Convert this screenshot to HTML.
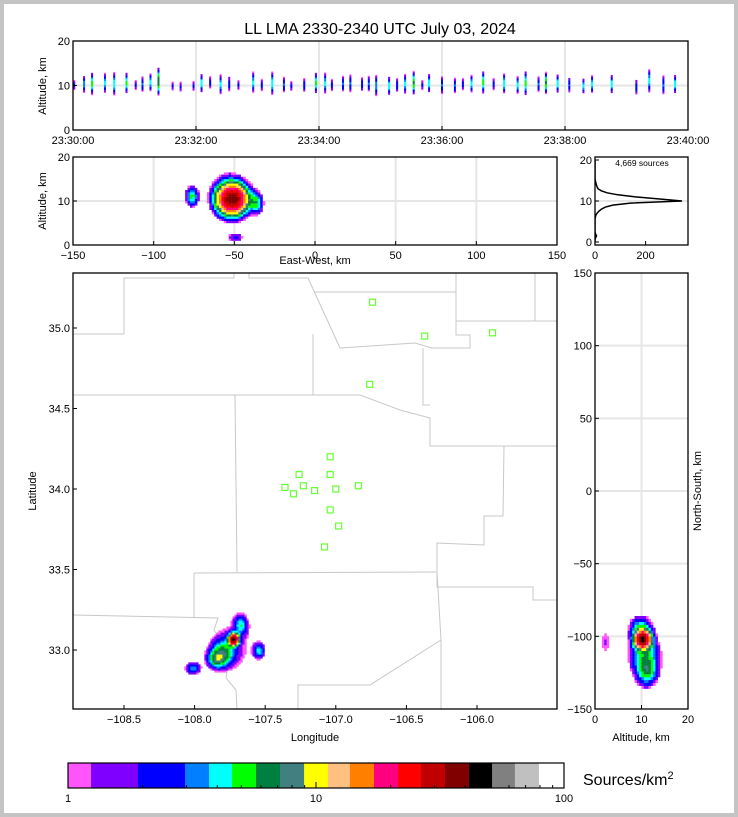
<!DOCTYPE html>
<html><head><meta charset="utf-8"><style>
html,body{margin:0;padding:0;background:#fff}
svg{display:block;font-family:"Liberation Sans",sans-serif}
</style></head><body>
<svg id="fig" width="738" height="817" viewBox="0 0 738 817" xmlns="http://www.w3.org/2000/svg">
<rect x="0" y="0" width="738" height="817" fill="#c4c4c4"/>
<rect x="4" y="4" width="730" height="809" fill="#fff"/>
<text x="380" y="34" font-size="16" text-anchor="middle">LL LMA 2330-2340 UTC July 03, 2024</text>
<g id="layer"></g>
</svg>
<script>
// ---------- data ----------
const cbEdges = [0,0.093,0.282,0.472,0.569,0.661,0.758,0.855,0.952,1.048,1.137,1.234,1.331,1.423,1.52,1.617,1.71,1.802,1.899,2.0];
const cbColors = ["#ff55ff","#8000ff","#0000ff","#0080ff","#00ffff","#00ff00","#008040","#408080","#ffff00","#ffc080","#ff8000","#ff0080","#ff0000","#c00000","#800000","#000000","#808080","#c0c0c0","#ffffff"];
const flashTimes = [0.02,0.18,0.31,0.52,0.67,0.87,1.02,1.13,1.26,1.39,1.62,1.75,1.96,2.09,2.23,2.40,2.54,2.69,2.93,3.07,3.24,3.43,3.55,3.76,3.95,4.10,4.21,4.39,4.51,4.70,4.81,4.93,5.14,5.27,5.40,5.54,5.68,5.79,6.00,6.21,6.34,6.48,6.67,6.84,7.01,7.23,7.36,7.57,7.69,7.88,8.07,8.30,8.44,8.76,9.16,9.37,9.60,9.79];
const flashAlt = [10,10.2,10.3,10.5,10.3,10.5,10,10.2,10.6,10.8,9.8,9.6,9.8,10.4,10.6,10.2,10.3,10,10.6,10,10.4,10.1,9.8,10,10.5,10.4,10,10.3,10.4,10.2,10.3,9.9,9.8,10,10.3,10.5,10,10.4,10,9.9,10.2,10.3,10.6,10.2,10.4,10,10.4,10.2,10.5,10.3,10,9.8,10.2,10.2,9.6,11,10,10.2];
const flashSpread = [1,1.2,1.4,1.3,1.5,1.3,1,1.2,1.2,1.6,0.8,0.9,1,1.2,1,1.3,1.2,1,1.4,1,1.5,1.2,1,1.1,1.3,1.4,1,1.2,1.3,1.1,1.2,1.5,1.2,1.1,1.3,1.4,1,1.2,1.3,1.2,1,1.2,1.4,1,1.3,1.2,1.5,1.2,1.3,1.2,1.1,1,1.2,1.2,1.2,1.6,1.4,1.2];
const flashPeak = [2,3.5,5,4,4.5,5,2,3,4,7,2,2,2,4.5,2.5,4,2.5,2,4,2.5,4.5,3,2,2.5,5,4,2.5,3,3,2.5,3,3.5,4.5,2.5,4,6,2,4.5,3,3,2.5,4,5,2.5,4.5,4,5,3,6,4.5,3,4,4,4.5,2.5,4,3,4.5];
const histAlt = [0,0.5,1,1.5,2,2.5,3,3.5,4,4.5,5,5.5,6,6.5,7,7.5,8,8.5,9,9.5,10,10.5,11,11.5,12,12.5,13,13.5,14,14.5,15,15.5,16,17,18,19,20];
const histCount = [0,0,2,6,2,0,0,0,0,0,0,0,1,3,8,15,25,40,70,140,344,250,160,90,48,25,12,8,5,3,1,0,0,0,0,0,0];
const stationLon = [-106.74,-106.37,-105.89,-106.76,-107.04,-107.26,-107.04,-107.36,-107.23,-107.30,-107.15,-107.00,-106.84,-107.04,-106.98,-107.08];
const stationLat = [35.16,34.95,34.97,34.65,34.20,34.09,34.09,34.01,34.02,33.97,33.99,34.00,34.02,33.87,33.77,33.64];
const ewBlobX = [-52,-77,-37,-50,-55];
const ewBlobY = [10.2,10.8,9.3,1.5,12];
const ewBlobSX = [5.5,2.5,2.5,4,7];
const ewBlobSY = [2,1.4,1.5,0.7,3.5];
const ewBlobPeak = [38,5,5,2,1.4];
const mapBlobLon = [-107.73,-107.80,-107.85,-107.68,-107.55,-108.02,-107.75];
const mapBlobLat = [33.06,32.98,32.94,33.15,32.99,32.88,33.02];
const mapBlobSX = [0.02,0.05,0.04,0.03,0.025,0.035,0.13];
const mapBlobSY = [0.02,0.05,0.035,0.04,0.03,0.025,0.13];
const mapBlobPeak = [45,5,6,4,4,3.5,1.4];
const nsBlobX = [10,10.5,9.5,11,2];
const nsBlobY = [-103,-115,-95,-125,-105];
const nsBlobSX = [1,2,1.5,1.3,1];
const nsBlobSY = [3.5,10,5,6,8];
const nsBlobPeak = [40,5,4,4,1.3];
const timeTicks = ["23:30:00","23:32:00","23:34:00","23:36:00","23:38:00","23:40:00"];

// ---------- helpers ----------
const NS="http://www.w3.org/2000/svg";
const layer=document.getElementById('layer');
function el(tag,attrs,parent){const e=document.createElementNS(NS,tag);for(const k in attrs)e.setAttribute(k,attrs[k]);(parent||layer).appendChild(e);return e;}
function colorFor(v){const l=Math.log10(v);for(let i=0;i<cbColors.length;i++){if(l<cbEdges[i+1])return cbColors[i];}return cbColors[cbColors.length-1];}
function lin(d0,d1,r0,r1){return v=>r0+(v-d0)*(r1-r0)/(d1-d0);}
function txt(x,y,s,size,anchor,parent,rot){const t=el('text',{x:x,y:y,'font-size':size,'text-anchor':anchor||'middle'},parent);if(rot)t.setAttribute('transform','rotate('+rot+' '+x+' '+y+')');t.textContent=s;return t;}

function panel(name,x0,y0,x1,y1){
  const g=el('g',{});
  
  
  const clip=el('clipPath',{id:'c-'+name},g);
  el('rect',{x:x0,y:y0,width:x1-x0,height:y1-y0},clip);
  const inner=el('g',{'clip-path':'url(#c-'+name+')'},g);
  return {g,inner,x0,y0,x1,y1};
}
function frame(p){const r=el('rect',{x:p.x0,y:p.y0,width:p.x1-p.x0,height:p.y1-p.y0,fill:'none',stroke:'#000','stroke-width':1.3},p.g);
  
  }
function grid(p,xs,ys){
  xs.forEach(x=>{const l=el('line',{x1:x,x2:x,y1:p.y0,y2:p.y1,stroke:'#e6e6e6','stroke-width':2},p.inner);
    
    });
  ys.forEach(y=>{const l=el('line',{x1:p.x0,x2:p.x1,y1:y,y2:y,stroke:'#e6e6e6','stroke-width':2},p.inner);
    
    });
}
function xticks(p,vals,sx,labels,size){vals.forEach((v,i)=>{const x=sx(v);el('line',{x1:x,x2:x,y1:p.y1,y2:p.y1-4,stroke:'#000'},p.g);
  const t=txt(x,p.y1+14,labels[i],size||11,'middle',p.g);
  
  });}
function yticks(p,vals,sy,labels,size){vals.forEach((v,i)=>{const y=sy(v);el('line',{x1:p.x0,x2:p.x0+4,y1:y,y2:y,stroke:'#000'},p.g);
  const t=txt(p.x0-3,y+4,labels[i],size||11,'end',p.g);
  
  });}

function density(p,sx,sy,bx,by,bsx,bsy,bpk,xr,yr,dx,dy,name){
  const g=el('g',{},p.inner);
  
  
  for(let x=xr[0];x<xr[1];x+=dx){for(let y=yr[0];y<yr[1];y+=dy){
    let d=0;for(let i=0;i<bx.length;i++){const a=(x-bx[i])/bsx[i],b=(y-by[i])/bsy[i];d+=bpk[i]*Math.exp(-0.5*(a*a+b*b));}
    if(d<1)continue;
    const X0=sx(x),X1=sx(x+dx),Y0=sy(y),Y1=sy(y+dy);
    el('rect',{x:Math.min(X0,X1),y:Math.min(Y0,Y1),width:Math.abs(X1-X0)+0.2,height:Math.abs(Y1-Y0)+0.2,fill:colorFor(d)},g);
  }}
}

// ---------- top: time-height ----------
(function(){
  const p=panel('time-altitude-panel',73,41,688,130);
  const sx=lin(0,10,73,688), sy=lin(0,20,130,41);
  grid(p,[2,4,6,8].map(sx),[sy(10)]);
  const g=el('g',{},p.inner);
  
  
  flashTimes.forEach((t,i)=>{
    const x=sx(t);
    for(let z=flashAlt[i]-3*flashSpread[i];z<flashAlt[i]+3*flashSpread[i];z+=0.25){
      const a=(z-flashAlt[i])/flashSpread[i];const d=flashPeak[i]*Math.exp(-0.5*a*a);
      if(d<1)continue;
      el('rect',{x:x-1,y:sy(z+0.25),width:2,height:sy(z)-sy(z+0.25)+0.2,fill:colorFor(d)},g);
    }
  });
  frame(p);
  xticks(p,[0,2,4,6,8,10],sx,timeTicks,11);
  yticks(p,[0,10,20],sy,["0","10","20"],11);
  const yl=txt(46,86,"Altitude, km",11,'middle',layer,-90);
  
  
})();

// ---------- middle: EW vs altitude ----------
(function(){
  const p=panel('ew-altitude-panel',73,157,557,245);
  const sx=lin(-150,150,73,557), sy=lin(0,20,245,157);
  grid(p,[-100,-50,0,50,100].map(sx),[sy(10)]);
  density(p,sx,sy,ewBlobX,ewBlobY,ewBlobSX,ewBlobSY,ewBlobPeak,[-100,0],[0,20],1.5,0.5,'ew-density-cells');
  frame(p);
  xticks(p,[-150,-100,-50,0,50,100,150],sx,["\u2212150","\u2212100","\u221250","0","50","100","150"],11);
  yticks(p,[0,10,20],sy,["0","10","20"],11);
  const xl=txt(315,264,"East-West, km",11);
  
  
  const yl=txt(46,201,"Altitude, km",11,'middle',layer,-90);
  
  
})();

// ---------- histogram ----------
(function(){
  const p=panel('altitude-histogram',595,157,688,245);
  const sx=lin(0,200,595,645.6), sy=lin(0,20,242,160);
  grid(p,[],[sy(10)]);
  let d='';histAlt.forEach((a,i)=>{d+=(i?'L':'M')+sx(histCount[i]).toFixed(1)+','+sy(a).toFixed(1);});
  const path=el('path',{d:d,fill:'none',stroke:'#000','stroke-width':1.5},p.inner);
  
  
  frame(p);
  const st=txt(642,166,"4,669 sources",8.5,'middle',p.g);
  
  
  xticks(p,[0,200],sx,["0","200"],11);
  yticks(p,[0,10,20],sy,["0","10","20"],11);
})();

// ---------- map ----------
(function(){
  const p=panel('plan-view-map',73,273,557,709);
  const sx=lin(-108.5,-106.0,124,477), sy=lin(35.0,33.0,328,650);
  const borders=[
    [[73,334],[124,334],[124,278],[234,278],[234,273]],
    [[249,273],[249,278],[308,278],[340,348],[415,343],[432,348],[470,348],[470,335],[456,335],[456,273]],
    [[314,292],[456,292]],
    [[456,321],[535,321],[535,273]],[[535,321],[557,321]],
    [[313,334],[313,395]],
    [[73,395],[360,395],[400,410],[430,418],[430,446],[557,446]],
    [[423,348],[423,405],[430,405]],
    [[235,395],[237,573]],
    [[504,446],[503,516],[484,516],[484,545],[437,543],[437,587],[533,587],[533,600],[557,600]],
    [[194,573],[437,572]],[[194,573],[194,617]],
    [[73,615],[218,618],[214,630],[220,640],[218,655],[228,665],[226,678],[236,690],[237,709]],
    [[437,572],[441,640],[441,709]],[[441,640],[370,685],[298,685],[298,709]]
  ];
  const bg=el('g',{},p.inner);
  
  
  borders.forEach(b=>el('polyline',{points:b.map(q=>q.join(',')).join(' '),fill:'none',stroke:'#c8c8c8','stroke-width':1},bg));
  density(p,sx,sy,mapBlobLon,mapBlobLat,mapBlobSX,mapBlobSY,mapBlobPeak,[-108.3,-107.3],[32.7,33.4],0.0142,0.0124,'map-density-cells');
  const sg=el('g',{},p.inner);
  
  
  stationLon.forEach((lo,i)=>{el('rect',{x:sx(lo)-3,y:sy(stationLat[i])-3,width:6,height:6,fill:'none',stroke:'#66ff33','stroke-width':1.2},sg);});
  frame(p);
  xticks(p,[-108.5,-108,-107.5,-107,-106.5,-106],sx,["\u2212108.5","\u2212108.0","\u2212107.5","\u2212107.0","\u2212106.5","\u2212106.0"],11);
  yticks(p,[33,33.5,34,34.5,35],sy,["33.0","33.5","34.0","34.5","35.0"],11);
  const xl=txt(315,741,"Longitude",11);
  
  
  const yl=txt(36,491,"Latitude",11,'middle',layer,-90);
  
  
})();

// ---------- NS vs altitude ----------
(function(){
  const p=panel('altitude-ns-panel',595,273,688,709);
  const sx=lin(0,20,595,688), sy=lin(150,-150,273,709);
  grid(p,[sx(10)],[100,50,0,-50,-100].map(sy));
  density(p,sx,sy,nsBlobX,nsBlobY,nsBlobSX,nsBlobSY,nsBlobPeak,[0,20],[-150,-60],0.5,2,'ns-density-cells');
  frame(p);
  xticks(p,[0,10,20],sx,["0","10","20"],11);
  yticks(p,[-150,-100,-50,0,50,100,150],sy,["\u2212150","\u2212100","\u221250","0","50","100","150"],11);
  const xl=txt(641,741,"Altitude, km",11);
  
  
  const yl=txt(701,491,"North-South, km",11,'middle',layer,-90);
  
  
})();

// ---------- colorbar ----------
(function(){
  const g=el('g',{});
  
  
  const sx=lin(0,2,68,564);
  cbColors.forEach((c,i)=>{el('rect',{x:sx(cbEdges[i]),y:763,width:sx(cbEdges[i+1])-sx(cbEdges[i])+0.3,height:25,fill:c},g);});
  el('rect',{x:68,y:763,width:496,height:25,fill:'none',stroke:'#000','stroke-width':1.2},g);
  [1,10,100].forEach(v=>{const x=sx(Math.log10(v));el('line',{x1:x,x2:x,y1:788,y2:782,stroke:'#000'},g);
    const t=txt(x,802,String(v),11,'middle',g);
    
    });
  [2,3,4,5,6,7,8,9,20,30,40,50,60,70,80,90].forEach(v=>{const x=sx(Math.log10(v));el('line',{x1:x,x2:x,y1:788,y2:785,stroke:'#000'},g);});
  const lab=el('text',{x:583,y:785,'font-size':16},g);
  
  
  lab.textContent="Sources/km";
  const sup=el('tspan',{dy:-6,'font-size':11},lab);sup.textContent="2";
})();
</script>
</body></html>
